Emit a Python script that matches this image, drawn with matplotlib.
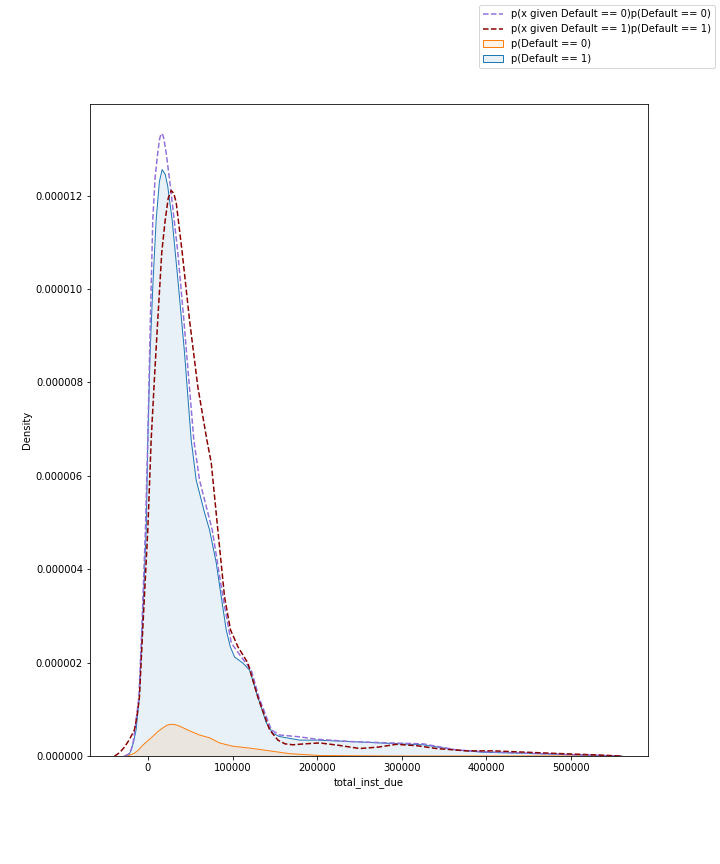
import matplotlib
matplotlib.use("Agg")
import matplotlib.pyplot as plt
from matplotlib.patches import Patch
from matplotlib.lines import Line2D
from matplotlib.ticker import FormatStrFormatter
import numpy as np

# densities (x in total_inst_due, y in units of 1e-6)
blue_x = [-25400, -22000, -19900, -17000, -14000, -10100, -6900, -2100, -200, 2500, 5700,
          9700, 13500, 16800, 20500, 23400, 28600, 36100, 43200, 51100, 57000, 66900,
          72800, 80700, 86600, 92500, 97300, 102400, 112200, 120100, 129900, 139900,
          147700, 155000, 163600, 179300, 199100, 238500, 285800, 324900, 364700,
          395900, 443200, 514200, 560000]
blue_y = [0, 0.04, 0.13, 0.30, 0.56, 1.26, 2.70, 4.84, 6.77, 8.60, 10.05,
          11.48, 12.30, 12.56, 12.45, 12.20, 11.48, 10.06, 8.64, 6.77, 5.91, 5.21,
          4.84, 4.14, 3.41, 2.70, 2.34, 2.12, 1.99, 1.84, 1.26, 0.71,
          0.49, 0.42, 0.39, 0.34, 0.34, 0.31, 0.27, 0.24, 0.13,
          0.08, 0.06, 0.02, 0]

orange_x = [-27800, -21000, -16000, -11000, -6200, 0, 5700, 11500, 17500, 22500, 27500,
            32500, 37300, 49100, 60900, 72800, 84600, 100000, 120100, 143800, 167500,
            203000, 297800, 560000]
orange_y = [0, 0.02, 0.06, 0.13, 0.23, 0.33, 0.42, 0.52, 0.60, 0.66, 0.68,
            0.67, 0.64, 0.54, 0.45, 0.39, 0.28, 0.21, 0.17, 0.11, 0.05,
            0.01, 0, 0]

purple_x = [-27800, -23000, -19900, -17500, -15400, -10700, -7300, -3000, -200, 1800, 3800,
            5700, 8500, 11600, 13800, 15600, 17500, 18800, 21500, 26600, 35300, 42400,
            54200, 60900, 76000, 88500, 98500, 110300, 122100, 131100, 145800, 155600,
            179300, 199100, 238500, 285800, 325200, 364700, 396200, 447600, 514600,
            560000]
purple_y = [0, 0.04, 0.13, 0.30, 0.56, 1.26, 2.70, 4.84, 6.77, 8.50, 10.05,
            11.48, 12.40, 12.92, 13.22, 13.33, 13.30, 13.22, 12.92, 12.19, 10.78, 9.34,
            6.77, 5.91, 4.84, 3.41, 2.42, 2.12, 1.84, 1.26, 0.56, 0.45,
            0.41, 0.36, 0.31, 0.28, 0.26, 0.13, 0.09, 0.06, 0.02,
            0]

red_x = [-39600, -37600, -33000, -27800, -22000, -16000, -13000, -10100, -6200, -200, 3800,
         8000, 11600, 16300, 20400, 24000, 27500, 30500, 33400, 40500, 49100, 58900,
         69600, 74800, 82600, 90500, 97600, 106300, 118100, 129900, 143800, 153600,
         162000, 171400, 185000, 203000, 225000, 250300, 272000, 293700, 318000,
         341100, 376600, 408000, 475100, 534300, 558000]
red_y = [0, 0.02, 0.08, 0.19, 0.35, 0.56, 0.85, 1.26, 2.70, 4.84, 6.77,
         8.20, 9.34, 10.78, 11.48, 11.95, 12.11, 12.05, 11.85, 10.78, 9.34, 7.91,
         6.77, 6.28, 4.84, 3.41, 2.70, 2.34, 1.99, 1.26, 0.56, 0.34,
         0.26, 0.24, 0.26, 0.28, 0.23, 0.16, 0.19, 0.25, 0.22,
         0.16, 0.11, 0.11, 0.06, 0.02, 0]

labels = ['p(x given Default == 0)p(Default == 0)',
          'p(x given Default == 1)p(Default == 1)',
          'p(Default == 0)',
          'p(Default == 1)']

fig = plt.figure(figsize=(10, 12), dpi=72)
ax = fig.add_axes([0.125, 0.125, 0.775, 0.755])

scale = 1e-6
by = np.array(blue_y) * scale
oy = np.array(orange_y) * scale
py = np.array(purple_y) * scale
ry = np.array(red_y) * scale

# filled kde curves
ax.fill_between(blue_x, by, color='C0', alpha=0.1, lw=0)
ax.plot(blue_x, by, color='C0', lw=1)
ax.fill_between(orange_x, oy, color='C1', alpha=0.1, lw=0)
ax.plot(orange_x, oy, color='C1', lw=1)

# dashed products
ax.plot(purple_x, py, color='mediumpurple', ls='--', lw=1.5)
ax.plot(red_x, ry, color='darkred', ls='--', lw=1.5)

ax.set_xlim(-68500, 591000)
ax.set_ylim(0, 1.397e-5)
ax.set_yticks(np.arange(0, 1.3e-5, 2e-6))
ax.yaxis.set_major_formatter(FormatStrFormatter('%.6f'))
ax.set_xticks([0, 100000, 200000, 300000, 400000, 500000])
ax.set_xlabel('total_inst_due')
ax.set_ylabel('Density')

handles = [
    Line2D([], [], color='mediumpurple', ls='--', lw=1.5),
    Line2D([], [], color='darkred', ls='--', lw=1.5),
    Patch(facecolor=(1.0, 0.5, 0.05, 0.1), edgecolor='C1'),
    Patch(facecolor=(0.12, 0.47, 0.71, 0.1), edgecolor='C0'),
]
fig.legend(handles, labels, loc='upper right')

plt.savefig('out.png', dpi=72)
